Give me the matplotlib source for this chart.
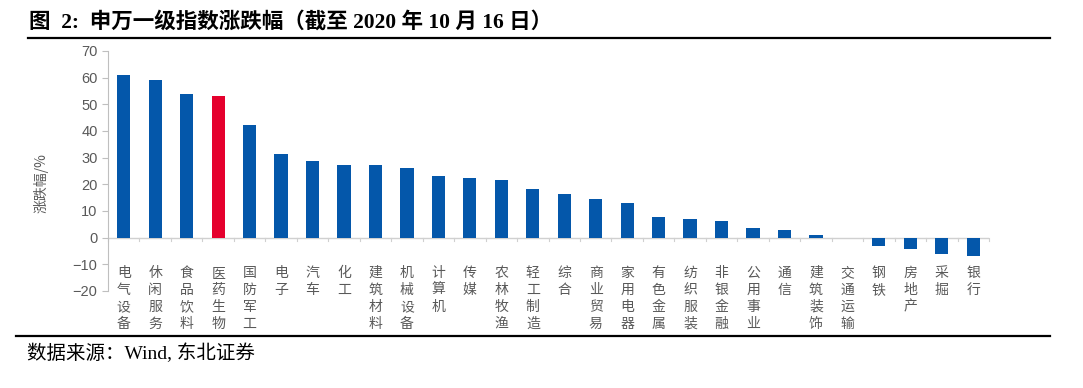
import matplotlib
matplotlib.use("Agg")
import matplotlib.pyplot as plt
from matplotlib.lines import Line2D

plt.rcParams['font.family'] = ['Liberation Sans', 'Noto Sans CJK SC', 'DejaVu Sans']

# industries and % change up to 2020-10-16
sectors = ['电气设备', '休闲服务', '食品饮料', '医药生物', '国防军工', '电子', '汽车', '化工',
           '建筑材料', '机械设备', '计算机', '传媒', '农林牧渔', '轻工制造', '综合', '商业贸易',
           '家用电器', '有色金属', '纺织服装', '非银金融', '公用事业', '通信', '建筑装饰',
           '交通运输', '钢铁', '房地产', '采掘', '银行']
changes = [61.0, 59.2, 54.0, 53.2, 42.3, 31.3, 28.7, 27.2,
           27.2, 26.1, 23.1, 22.4, 21.6, 18.2, 16.3, 14.4,
           12.9, 7.7, 6.9, 6.2, 3.5, 2.8, 0.9,
           -0.1, -3.0, -4.3, -6.2, -6.7]
highlight = '医药生物'
yticks = list(range(-20, 80, 10))

blue = '#0457AA'
red = '#E5002D'
gray = '#595959'

fig = plt.figure(figsize=(10.83, 3.88), dpi=100)
ax = fig.add_axes([108 / 1083, 1 - 291 / 388, (989 - 108) / 1083, (291 - 51) / 388])

x = list(range(len(sectors)))
colors = [red if s == highlight else blue for s in sectors]
ax.bar(x, changes, width=0.42, color=colors, zorder=3)

ax.set_xlim(-0.5, len(sectors) - 0.5)
ax.set_ylim(-20, 70)
ax.set_yticks(yticks)
ax.tick_params(axis='y', labelsize=10.5, labelcolor=gray, color='#BFBFBF', length=4, width=0.8)
ax.set_xticks([])
for side in ['top', 'right', 'bottom']:
    ax.spines[side].set_visible(False)
ax.spines['left'].set_color('#BFBFBF')

# category axis along zero
ax.axhline(0, color='#D0D0D0', lw=1.0, zorder=2)
for b in range(len(sectors) + 1):
    ax.plot([b - 0.5, b - 0.5], [0, -1.3], color='#D0D0D0', lw=0.8, clip_on=False)

for i, s in enumerate(sectors):
    ax.text(i, -10.6, '\n'.join(s), ha='center', va='top', fontsize=10, color=gray,
            linespacing=1.27, family=['Noto Sans CJK SC'], clip_on=False)

fig.text(41 / 1083, 1 - 183 / 388, '涨跌幅/%', rotation=90, ha='center', va='center',
         fontsize=10, color=gray, family=['Noto Sans CJK SC'])

# header, rules and source
fig.text(29 / 1083, 1 - 22 / 388, '图  2:  申万一级指数涨跌幅（截至 2020 年 10 月 16 日）',
         ha='left', va='center', fontsize=15.5, fontweight='bold',
         family=['Liberation Serif', 'Noto Sans CJK SC'])
fig.add_artist(Line2D([28 / 1083, 1050 / 1083], [1 - 38 / 388] * 2, color='black', lw=1.6))
fig.add_artist(Line2D([16 / 1083, 1050 / 1083], [1 - 336 / 388] * 2, color='black', lw=1.6))
fig.text(27 / 1083, 1 - 353 / 388, '数据来源：Wind, 东北证券', ha='left', va='center',
         fontsize=14, family=['Liberation Serif', 'Noto Sans CJK SC'])

fig.savefig('out.png', dpi=100)
